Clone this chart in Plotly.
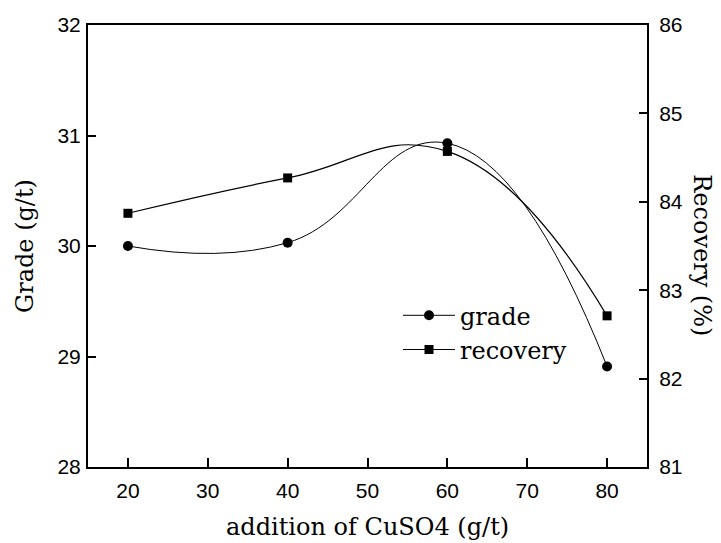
import plotly.graph_objects as go

addition = [20, 40, 60, 80]
grade = [30.0, 30.03, 30.93, 28.91]
recovery = [83.87, 84.27, 84.57, 82.71]

x_ticks = [20, 30, 40, 50, 60, 70, 80]
grade_ticks = [28, 29, 30, 31, 32]
recovery_ticks = [81, 82, 83, 84, 85, 86]

serif = "DejaVu Serif"
sans = "Liberation Sans, Arial"

fig = go.Figure()
fig.add_trace(go.Scatter(
    x=addition, y=grade, name="grade", mode="lines+markers",
    line=dict(color="black", width=1, shape="spline", smoothing=1.3),
    marker=dict(symbol="circle", size=10, color="black"),
))
fig.add_trace(go.Scatter(
    x=addition, y=recovery, name="recovery", mode="lines+markers", yaxis="y2",
    line=dict(color="black", width=1.2, shape="spline", smoothing=1.3),
    marker=dict(symbol="square", size=9, color="black"),
))

L, R, T, B = 88, 74, 24.5, 76
W, H = 721, 543
pw, ph = W - L - R, H - T - B

fig.update_layout(
    width=W, height=H,
    margin=dict(l=L, r=R, t=T, b=B, pad=0, autoexpand=False),
    paper_bgcolor="white", plot_bgcolor="white",
    showlegend=True,
    legend=dict(
        x=(398 - L) / pw, y=(467 - 293) / ph, xanchor="left", yanchor="top",
        font=dict(family=serif, size=24, color="black"),
        bgcolor="rgba(0,0,0,0)", itemwidth=52, tracegroupgap=0,
    ),
    xaxis=dict(
        range=[15, 85], tickvals=x_ticks, ticks="inside", ticklen=9,
        tickwidth=1.5, tickcolor="black",
        showline=True, linecolor="black", linewidth=2, mirror=True,
        showgrid=False, zeroline=False,
        tickfont=dict(family=sans, size=21, color="black"),
        ticklabelstandoff=4,
    ),
    yaxis=dict(
        range=[28, 32], tickvals=grade_ticks, ticks="inside", ticklen=8,
        tickwidth=1.5, tickcolor="black",
        showline=True, linecolor="black", linewidth=2,
        showgrid=False, zeroline=False,
        tickfont=dict(family=sans, size=21, color="black"),
        ticklabelstandoff=1,
    ),
    yaxis2=dict(
        range=[81, 86], tickvals=recovery_ticks, ticks="inside", ticklen=8,
        tickwidth=1.5, tickcolor="black", overlaying="y", side="right",
        showline=True, linecolor="black", linewidth=2,
        showgrid=False, zeroline=False,
        tickfont=dict(family=sans, size=21, color="black"),
        ticklabelstandoff=6,
    ),
    annotations=[
        dict(text="addition of CuSO4 (g/t)", xref="paper", yref="paper",
             x=0.5, y=-(527 - 467) / ph, xanchor="center", yanchor="middle",
             showarrow=False, font=dict(family=serif, size=24, color="black")),
        dict(text="Grade (g/t)", xref="paper", yref="paper",
             x=(25 - L) / pw, y=0.5, xanchor="center", yanchor="middle",
             textangle=-90, showarrow=False,
             font=dict(family=serif, size=24, color="black")),
        dict(text="Recovery (%)", xref="paper", yref="paper",
             x=(702 - L) / pw, y=(467 - 255) / ph, xanchor="center", yanchor="middle",
             textangle=90, showarrow=False,
             font=dict(family=serif, size=24, color="black")),
    ],
)

fig.write_html(
    "out.html",
    config={"displayModeBar": False},
    post_script="document.body.style.margin='0';document.body.style.overflow='hidden';",
)
